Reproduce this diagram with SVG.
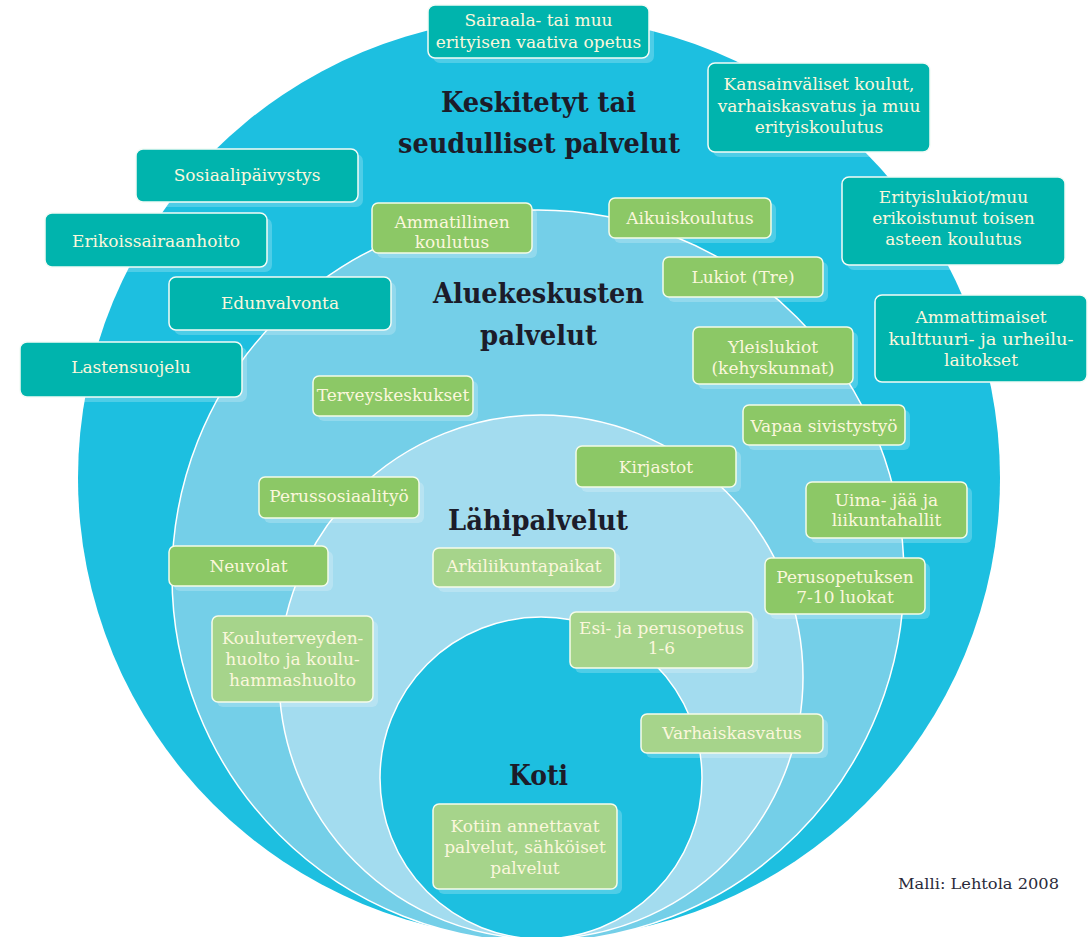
<svg xmlns="http://www.w3.org/2000/svg" width="1090" height="937" viewBox="0 0 1090 937">
<style>
.bg{fill:#ffffff}
.r1{fill:#1dbfe0}
.r2{fill:#74cfe8;stroke:#ffffff;stroke-width:1.5}
.r3{fill:#a3dcef;stroke:#ffffff;stroke-width:1.5}
.r4{fill:#1dbfe0;stroke:#ffffff;stroke-width:1.5}
.sh{fill:#ffffff;opacity:0.22}
.teal{fill:#00b4ad;stroke:#f4fbf6;stroke-width:1.5}
.green{fill:#8cc866;stroke:#f4fbe8;stroke-width:1.5}
.lgreen{fill:#a6d48b;stroke:#f6fbea;stroke-width:1.5}
.t{font-family:"DejaVu Serif","Liberation Serif",serif;font-size:17px;fill:#fbf7dc;text-anchor:middle}
.title{font-family:"DejaVu Serif","Liberation Serif",serif;font-size:27px;font-weight:bold;fill:#1c1c2a;text-anchor:middle}
.note{font-family:"DejaVu Serif","Liberation Serif",serif;font-size:15px;fill:#2a2a3a;text-anchor:middle}
</style>
<rect class="bg" x="0" y="0" width="1090" height="937"/>
<g id="rings">
<circle class="r1" cx="539" cy="478" r="461"/>
<circle class="r2" cx="538" cy="576" r="366"/>
<circle class="r3" cx="541" cy="677" r="262"/>
<circle class="r4" cx="541" cy="778" r="161"/>
</g>
<g id="titles">
<text class="title" x="538.5" y="112" textLength="195" lengthAdjust="spacingAndGlyphs">Keskitetyt tai</text>
<text class="title" x="539" y="153" textLength="282" lengthAdjust="spacingAndGlyphs">seudulliset palvelut</text>
<text class="title" x="538.5" y="303" textLength="211" lengthAdjust="spacingAndGlyphs">Aluekeskusten</text>
<text class="title" x="538.5" y="345" textLength="117" lengthAdjust="spacingAndGlyphs">palvelut</text>
<text class="title" x="538" y="530" textLength="180" lengthAdjust="spacingAndGlyphs">Lähipalvelut</text>
<text class="title" x="538.5" y="785" textLength="59" lengthAdjust="spacingAndGlyphs">Koti</text>
</g>
<g id="n1"><rect class="sh" x="433" y="10" width="221" height="53" rx="7"/><rect class="teal" x="428" y="5" width="221" height="53" rx="7"/><text class="t" x="538.5" y="26">Sairaala- tai muu</text><text class="t" x="538.5" y="48">erityisen vaativa opetus</text></g>
<g id="n2"><rect class="sh" x="713" y="68" width="222" height="89" rx="7"/><rect class="teal" x="708" y="63" width="222" height="89" rx="7"/><text class="t" x="819" y="90">Kansainväliset koulut,</text><text class="t" x="819" y="112">varhaiskasvatus ja muu</text><text class="t" x="819" y="133">erityiskoulutus</text></g>
<g id="n3"><rect class="sh" x="847" y="182" width="223" height="88" rx="7"/><rect class="teal" x="842" y="177" width="223" height="88" rx="7"/><text class="t" x="953.5" y="203">Erityislukiot/muu</text><text class="t" x="953.5" y="224">erikoistunut toisen</text><text class="t" x="953.5" y="245">asteen koulutus</text></g>
<g id="n4"><rect class="teal" x="875" y="295" width="212" height="87" rx="7"/><text class="t" x="981" y="323">Ammattimaiset</text><text class="t" x="981" y="345" textLength="185" lengthAdjust="spacingAndGlyphs">kulttuuri- ja urheilu-</text><text class="t" x="981" y="366">laitokset</text></g>
<g id="n5"><rect class="sh" x="141" y="154" width="222" height="53" rx="7"/><rect class="teal" x="136" y="149" width="222" height="53" rx="7"/><text class="t" x="247" y="181">Sosiaalipäivystys</text></g>
<g id="n6"><rect class="sh" x="50" y="218" width="222" height="54" rx="7"/><rect class="teal" x="45" y="213" width="222" height="54" rx="7"/><text class="t" x="156" y="247">Erikoissairaanhoito</text></g>
<g id="n7"><rect class="sh" x="174" y="282" width="222" height="53" rx="7"/><rect class="teal" x="169" y="277" width="222" height="53" rx="7"/><text class="t" x="280" y="309">Edunvalvonta</text></g>
<g id="n8"><rect class="sh" x="25" y="347" width="222" height="55" rx="7"/><rect class="teal" x="20" y="342" width="222" height="55" rx="7"/><text class="t" x="131" y="373">Lastensuojelu</text></g>
<g id="n9"><rect class="sh" x="377" y="208" width="160" height="50" rx="6"/><rect class="green" x="372" y="203" width="160" height="50" rx="6"/><text class="t" x="452" y="228">Ammatillinen</text><text class="t" x="452" y="248">koulutus</text></g>
<g id="n10"><rect class="sh" x="614" y="203" width="162" height="40" rx="6"/><rect class="green" x="609" y="198" width="162" height="40" rx="6"/><text class="t" x="690" y="224">Aikuiskoulutus</text></g>
<g id="n11"><rect class="sh" x="668" y="262" width="160" height="40" rx="6"/><rect class="green" x="663" y="257" width="160" height="40" rx="6"/><text class="t" x="743" y="283">Lukiot (Tre)</text></g>
<g id="n12"><rect class="sh" x="698" y="332" width="160" height="57" rx="6"/><rect class="green" x="693" y="327" width="160" height="57" rx="6"/><text class="t" x="773" y="353">Yleislukiot</text><text class="t" x="773" y="374">(kehyskunnat)</text></g>
<g id="n13"><rect class="sh" x="748" y="410" width="162" height="40" rx="6"/><rect class="green" x="743" y="405" width="162" height="40" rx="6"/><text class="t" x="824" y="432">Vapaa sivistystyö</text></g>
<g id="n14"><rect class="sh" x="581" y="451" width="160" height="41" rx="6"/><rect class="green" x="576" y="446" width="160" height="41" rx="6"/><text class="t" x="656" y="473">Kirjastot</text></g>
<g id="n15"><rect class="sh" x="811" y="487" width="161" height="56" rx="6"/><rect class="green" x="806" y="482" width="161" height="56" rx="6"/><text class="t" x="886.5" y="506">Uima- jää ja</text><text class="t" x="886.5" y="526">liikuntahallit</text></g>
<g id="n16"><rect class="sh" x="770" y="563" width="160" height="56" rx="6"/><rect class="green" x="765" y="558" width="160" height="56" rx="6"/><text class="t" x="845" y="583">Perusopetuksen</text><text class="t" x="845" y="603">7-10 luokat</text></g>
<g id="n17"><rect class="sh" x="318" y="381" width="160" height="40" rx="6"/><rect class="green" x="313" y="376" width="160" height="40" rx="6"/><text class="t" x="393" y="401">Terveyskeskukset</text></g>
<g id="n18"><rect class="sh" x="264" y="482" width="160" height="41" rx="6"/><rect class="green" x="259" y="477" width="160" height="41" rx="6"/><text class="t" x="339" y="502">Perussosiaalityö</text></g>
<g id="n19"><rect class="sh" x="174" y="551" width="159" height="40" rx="6"/><rect class="green" x="169" y="546" width="159" height="40" rx="6"/><text class="t" x="248.5" y="572">Neuvolat</text></g>
<g id="n20"><rect class="sh" x="438" y="553" width="182" height="39" rx="6"/><rect class="lgreen" x="433" y="548" width="182" height="39" rx="6"/><text class="t" x="524" y="572">Arkiliikuntapaikat</text></g>
<g id="n21"><rect class="sh" x="575" y="617" width="183" height="56" rx="6"/><rect class="lgreen" x="570" y="612" width="183" height="56" rx="6"/><text class="t" x="661.5" y="634">Esi- ja perusopetus</text><text class="t" x="661.5" y="654">1-6</text></g>
<g id="n22"><rect class="sh" x="217" y="621" width="161" height="86" rx="6"/><rect class="lgreen" x="212" y="616" width="161" height="86" rx="6"/><text class="t" x="292.5" y="644">Kouluterveyden-</text><text class="t" x="292.5" y="665">huolto ja koulu-</text><text class="t" x="292.5" y="686">hammashuolto</text></g>
<g id="n23"><rect class="sh" x="646" y="719" width="182" height="39" rx="6"/><rect class="lgreen" x="641" y="714" width="182" height="39" rx="6"/><text class="t" x="732" y="739">Varhaiskasvatus</text></g>
<g id="n24"><rect class="sh" x="438" y="809" width="184" height="85" rx="6"/><rect class="lgreen" x="433" y="804" width="184" height="85" rx="6"/><text class="t" x="525" y="832">Kotiin annettavat</text><text class="t" x="525" y="853">palvelut, sähköiset</text><text class="t" x="525" y="874">palvelut</text></g>
<g id="source"><text class="note" x="978.5" y="889" textLength="161" lengthAdjust="spacingAndGlyphs">Malli: Lehtola 2008</text></g>
</svg>
